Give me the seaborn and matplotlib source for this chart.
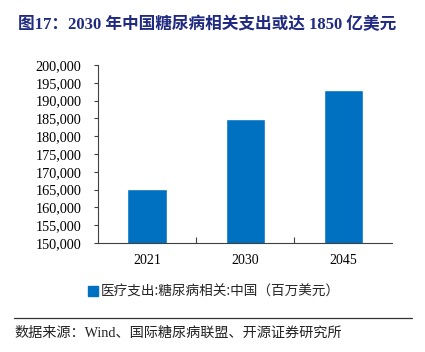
import matplotlib

matplotlib.use("Agg")

import matplotlib.pyplot as plt
import pandas as pd
import seaborn as sns
from matplotlib.lines import Line2D
from matplotlib.ticker import FuncFormatter, MultipleLocator

years = ["2021", "2030", "2045"]
spending = [165300, 184900, 193000]

TITLE = "图17：2030 年中国糖尿病相关支出或达 1850 亿美元"
LEGEND_LABEL = "医疗支出:糖尿病相关:中国（百万美元）"
SOURCE = "数据来源：Wind、国际糖尿病联盟、开源证券研究所"

BAR_COLOR = "#0070C0"
TITLE_COLOR = "#1F2A80"
MIXED = ["Liberation Serif", "Noto Sans CJK SC", "DejaVu Sans"]


def main() -> None:
    sns.set_theme(style="ticks")
    plt.rcParams["font.family"] = MIXED

    df = pd.DataFrame({"year": years, "value": spending})

    fig = plt.figure(figsize=(4.25, 3.52), dpi=100)
    ax = fig.add_axes([0.2306, 0.3097, 0.6924, 0.5057])

    sns.barplot(data=df, x="year", y="value", color=BAR_COLOR, width=0.4,
                saturation=1, ax=ax)

    ax.set_ylim(150000, 200000)
    ax.set_xlim(-0.5, len(years) - 0.5)
    ax.yaxis.set_major_locator(MultipleLocator(5000))
    ax.yaxis.set_major_formatter(FuncFormatter(lambda v, _: f"{int(v):,}"))
    ax.set_xlabel("")
    ax.set_ylabel("")

    for side in ("top", "right"):
        ax.spines[side].set_visible(False)
    for side in ("left", "bottom"):
        ax.spines[side].set_color("#404040")
        ax.spines[side].set_linewidth(0.8)

    ax.tick_params(axis="y", direction="out", length=3, width=0.8,
                   colors="#404040", labelcolor="black", labelsize=10.3, pad=9)
    # category boundaries carry the x ticks, pointing inward
    ax.set_xticks([0.5, 1.5], minor=True)
    ax.tick_params(axis="x", which="major", length=0, labelsize=10,
                   labelcolor="black", pad=8)
    ax.tick_params(axis="x", which="minor", direction="in", length=4,
                   width=0.8, colors="#404040")

    handle = Line2D([], [], marker="s", linestyle="none", markersize=6.5,
                    color=BAR_COLOR)
    fig.legend([handle], [LEGEND_LABEL], loc="center left",
               bbox_to_anchor=(0.174, 0.17), frameon=False,
               prop={"family": ["Noto Sans CJK SC"], "size": 9.8,
                     "weight": "light"},
               handletextpad=0.1, handlelength=1.0)

    fig.text(0.042, 0.928, TITLE, color=TITLE_COLOR, fontsize=12,
             fontweight="bold", va="center", ha="left")
    fig.add_artist(Line2D([0.032, 0.97], [0.097, 0.097],
                          transform=fig.transFigure, color="#333333",
                          linewidth=0.9))
    fig.text(0.035, 0.054, SOURCE, fontsize=10.2, color="#222222",
             va="center", ha="left")

    fig.savefig("out.png", dpi=100)
    plt.close(fig)


if __name__ == "__main__":
    main()
